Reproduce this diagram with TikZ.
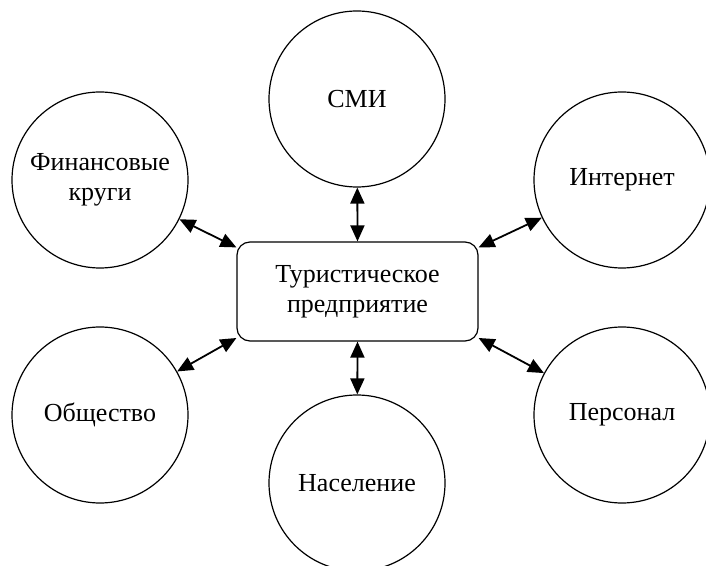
\documentclass[tikz,border=0pt]{standalone}
\usepackage{fontspec}
\setmainfont{Liberation Serif}
\usetikzlibrary{arrows.meta}
\begin{document}
\begin{tikzpicture}[x=1pt,y=1pt,line join=round,
		ring/.style={draw,line width=1.2pt,circle,minimum size=176pt,inner sep=0pt,align=center,font=\fontsize{26}{30}\selectfont},
		firm/.style={draw,line width=1.2pt,rounded corners=13pt,minimum width=241pt,minimum height=99pt,align=center,font=\fontsize{26}{30}\selectfont},
		link/.style={line width=1.8pt,{Triangle[length=16pt,width=14pt]}-{Triangle[length=16pt,width=14pt]}}]
		\useasboundingbox (0,0) rectangle (706,565);
		\node[firm] (firm) at (357.5,273.5) {Туристическое\\предприятие};
		\node[ring] (smi) at (357,466) {СМИ};
		\node[ring] (fin) at (100,385) {Финансовые\\круги};
		\node[ring] (net) at (622,385) {Интернет};
		\node[ring] (soc) at (100,150) {Общество};
		\node[ring] (pop) at (357,82) {Население};
		\node[ring] (staff) at (622,150) {Персонал};
		\draw[link] (smi) -- (firm.north);
		\draw[link] (firm.south) -- (pop);
		\draw[link] (fin) -- (firm.160);
		\draw[link] (net) -- (firm.20);
		\draw[link] (soc) -- (firm.201);
		\draw[link] (staff) -- (firm.339);
		\end{tikzpicture}
\end{document}
